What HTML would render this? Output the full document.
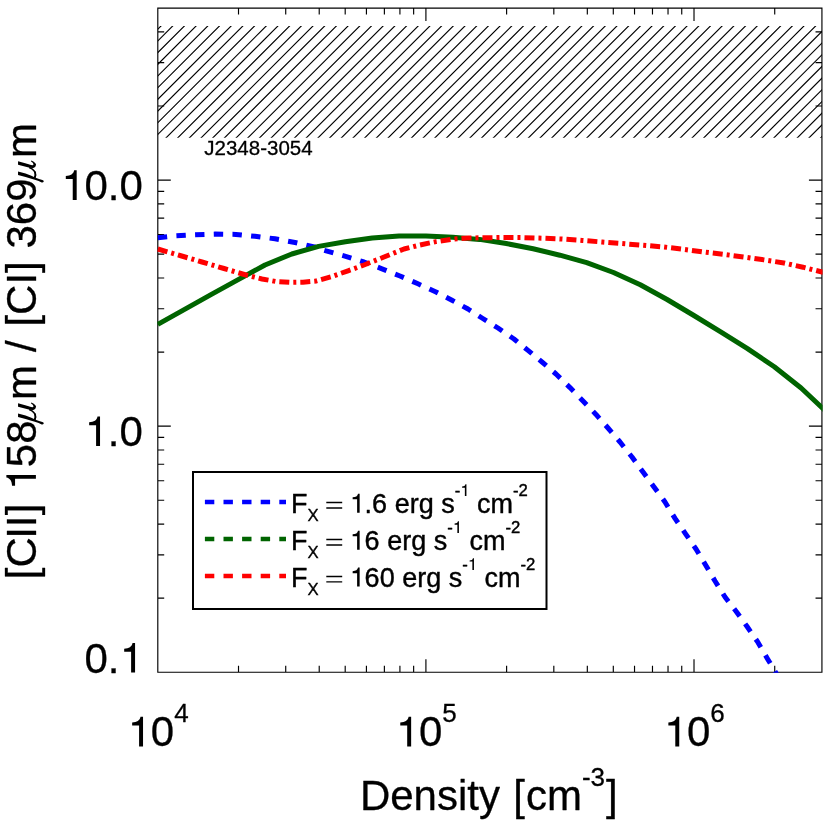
<!DOCTYPE html>
<html><head><meta charset="utf-8"><title>chart</title>
<style>html,body{margin:0;padding:0;background:#fff}svg{display:block}</style>
</head><body>
<svg width="830" height="830" viewBox="0 0 830 830" style="will-change:transform">
<defs><clipPath id="cp"><rect x="157.20" y="7.47" width="665.33" height="665.35"/></clipPath>
<clipPath id="hp"><rect x="157.80" y="25.90" width="664.13" height="111.80"/></clipPath></defs>
<rect x="0" y="0" width="830" height="830" fill="#fff"/>
<path d="M22.92 140.70 L140.72 22.90 M34.61 140.70 L152.41 22.90 M46.30 140.70 L164.10 22.90 M57.99 140.70 L175.79 22.90 M69.68 140.70 L187.48 22.90 M81.37 140.70 L199.17 22.90 M93.06 140.70 L210.86 22.90 M104.75 140.70 L222.55 22.90 M116.44 140.70 L234.24 22.90 M128.13 140.70 L245.93 22.90 M139.82 140.70 L257.62 22.90 M151.51 140.70 L269.31 22.90 M163.20 140.70 L281.00 22.90 M174.89 140.70 L292.69 22.90 M186.58 140.70 L304.38 22.90 M198.27 140.70 L316.07 22.90 M209.96 140.70 L327.76 22.90 M221.65 140.70 L339.45 22.90 M233.34 140.70 L351.14 22.90 M245.03 140.70 L362.83 22.90 M256.72 140.70 L374.52 22.90 M268.41 140.70 L386.21 22.90 M280.10 140.70 L397.90 22.90 M291.79 140.70 L409.59 22.90 M303.48 140.70 L421.28 22.90 M315.17 140.70 L432.97 22.90 M326.86 140.70 L444.66 22.90 M338.55 140.70 L456.35 22.90 M350.24 140.70 L468.04 22.90 M361.93 140.70 L479.73 22.90 M373.62 140.70 L491.42 22.90 M385.31 140.70 L503.11 22.90 M397.00 140.70 L514.80 22.90 M408.69 140.70 L526.49 22.90 M420.38 140.70 L538.18 22.90 M432.07 140.70 L549.87 22.90 M443.76 140.70 L561.56 22.90 M455.45 140.70 L573.25 22.90 M467.14 140.70 L584.94 22.90 M478.83 140.70 L596.63 22.90 M490.52 140.70 L608.32 22.90 M502.21 140.70 L620.01 22.90 M513.90 140.70 L631.70 22.90 M525.59 140.70 L643.39 22.90 M537.28 140.70 L655.08 22.90 M548.97 140.70 L666.77 22.90 M560.66 140.70 L678.46 22.90 M572.35 140.70 L690.15 22.90 M584.04 140.70 L701.84 22.90 M595.73 140.70 L713.53 22.90 M607.42 140.70 L725.22 22.90 M619.11 140.70 L736.91 22.90 M630.80 140.70 L748.60 22.90 M642.49 140.70 L760.29 22.90 M654.18 140.70 L771.98 22.90 M665.87 140.70 L783.67 22.90 M677.56 140.70 L795.36 22.90 M689.25 140.70 L807.05 22.90 M700.94 140.70 L818.74 22.90 M712.63 140.70 L830.43 22.90 M724.32 140.70 L842.12 22.90 M736.01 140.70 L853.81 22.90 M747.70 140.70 L865.50 22.90 M759.39 140.70 L877.19 22.90 M771.08 140.70 L888.88 22.90 M782.77 140.70 L900.57 22.90 M794.46 140.70 L912.26 22.90 M806.15 140.70 L923.95 22.90 M817.84 140.70 L935.64 22.90" clip-path="url(#hp)" stroke="#000" stroke-width="1.15" fill="none"/>
<path d="M157.80 8.07 H821.93 V672.22 H157.80 Z M238.51 672.22 v-6.40 M238.51 8.07 v6.40 M285.72 672.22 v-6.40 M285.72 8.07 v6.40 M319.22 672.22 v-6.40 M319.22 8.07 v6.40 M345.20 672.22 v-6.40 M345.20 8.07 v6.40 M366.43 672.22 v-6.40 M366.43 8.07 v6.40 M384.38 672.22 v-6.40 M384.38 8.07 v6.40 M399.92 672.22 v-6.40 M399.92 8.07 v6.40 M413.64 672.22 v-6.40 M413.64 8.07 v6.40 M425.91 672.22 v-13.00 M425.91 8.07 v13.00 M506.61 672.22 v-6.40 M506.61 8.07 v6.40 M553.82 672.22 v-6.40 M553.82 8.07 v6.40 M587.32 672.22 v-6.40 M587.32 8.07 v6.40 M613.30 672.22 v-6.40 M613.30 8.07 v6.40 M634.53 672.22 v-6.40 M634.53 8.07 v6.40 M652.48 672.22 v-6.40 M652.48 8.07 v6.40 M668.03 672.22 v-6.40 M668.03 8.07 v6.40 M681.74 672.22 v-6.40 M681.74 8.07 v6.40 M694.01 672.22 v-13.00 M694.01 8.07 v13.00 M774.72 672.22 v-6.40 M774.72 8.07 v6.40 M157.80 598.14 h6.40 M821.93 598.14 h-6.40 M157.80 554.81 h6.40 M821.93 554.81 h-6.40 M157.80 524.07 h6.40 M821.93 524.07 h-6.40 M157.80 500.22 h6.40 M821.93 500.22 h-6.40 M157.80 480.74 h6.40 M821.93 480.74 h-6.40 M157.80 464.26 h6.40 M821.93 464.26 h-6.40 M157.80 449.99 h6.40 M821.93 449.99 h-6.40 M157.80 437.40 h6.40 M821.93 437.40 h-6.40 M157.80 426.14 h13.00 M821.93 426.14 h-13.00 M157.80 352.07 h6.40 M821.93 352.07 h-6.40 M157.80 308.74 h6.40 M821.93 308.74 h-6.40 M157.80 277.99 h6.40 M821.93 277.99 h-6.40 M157.80 254.15 h6.40 M821.93 254.15 h-6.40 M157.80 234.66 h6.40 M821.93 234.66 h-6.40 M157.80 218.19 h6.40 M821.93 218.19 h-6.40 M157.80 203.92 h6.40 M821.93 203.92 h-6.40 M157.80 191.33 h6.40 M821.93 191.33 h-6.40 M157.80 180.07 h13.00 M821.93 180.07 h-13.00 M157.80 105.99 h6.40 M821.93 105.99 h-6.40 M157.80 62.66 h6.40 M821.93 62.66 h-6.40 M157.80 31.92 h6.40 M821.93 31.92 h-6.40" stroke="#000" stroke-width="1.15" fill="none"/>
<g clip-path="url(#cp)" fill="none" stroke-width="5" stroke-linejoin="round">
<path d="M157.8 237.7 L175.0 235.9 L195.0 234.8 L215.0 234.1 L236.0 234.4 L255.0 236.3 L275.0 238.8 L295.0 242.5 L316.0 247.3 L324.0 250.2 L344.0 255.8 L364.0 262.0 L382.0 268.8 L400.0 276.0 L418.0 283.8 L436.0 292.0 L452.0 300.3 L468.0 309.0 L482.0 318.0 L498.0 328.0 L514.0 339.0 L528.0 350.4 L542.0 362.0 L556.0 374.0 L570.0 387.6 L583.0 401.0 L596.0 414.4 L608.0 428.0 L620.0 442.0 L632.0 457.0 L643.0 472.0 L654.0 487.0 L665.0 502.0 L675.0 518.4 L685.4 533.6 L696.0 549.0 L705.6 565.0 L715.0 581.0 L725.0 597.0 L736.6 612.0 L747.4 627.0 L758.0 642.4 L767.3 658.4 L775.2 671.7 L782.0 683.0" stroke="#0000ff" stroke-dasharray="9.4 9.3"/>
<path d="M157.8 324.4 L184.6 309.4 L211.4 294.4 L238.2 279.6 L265.0 265.0 L291.8 254.0 L318.6 246.4 L345.4 241.8 L372.2 238.1 L399.0 236.1 L425.9 236.0 L452.7 237.2 L479.5 239.4 L506.3 243.5 L533.1 248.7 L559.9 255.2 L586.7 262.7 L613.5 272.5 L640.3 284.8 L667.1 299.5 L693.9 315.5 L720.7 331.9 L747.5 348.6 L774.3 366.8 L801.1 388.0 L827.9 413.3" stroke="#006400"/>
<path d="M157.8 249.0 L180.0 255.5 L202.0 262.0 L224.0 268.5 L246.0 275.0 L262.0 279.0 L276.0 281.5 L290.0 282.4 L303.0 282.2 L316.0 281.0 L332.0 276.5 L348.0 270.8 L364.0 265.0 L384.0 257.0 L404.0 249.0 L420.0 245.0 L436.0 241.6 L452.0 239.3 L468.0 238.0 L482.0 237.8 L502.0 237.5 L522.0 237.6 L542.0 238.2 L562.0 239.0 L582.0 240.4 L602.0 242.0 L625.0 243.8 L648.0 245.6 L664.0 247.0 L684.0 249.4 L704.0 252.0 L724.0 254.4 L744.0 257.0 L764.0 259.9 L784.0 263.0 L803.0 267.2 L822.0 272.0 L830.0 274.0" stroke="#ff0000" stroke-dasharray="10 4 3 4"/>
</g>
<g font-family='"Liberation Sans", sans-serif' fill="#000" stroke="#000" stroke-width="0.30" stroke-linejoin="round">
<path transform="translate(61.06 199.90) scale(0.04200 -0.04200)" d="M372 0L278 0L278 496L113 496L113 568C228 572 296 615 312 703L372 703Z" stroke-width="0.0"/>
<text x="84.41" y="199.90" font-size="42" xml:space="preserve">0.0</text>
<path transform="translate(84.41 446.10) scale(0.04200 -0.04200)" d="M372 0L278 0L278 496L113 496L113 568C228 572 296 615 312 703L372 703Z" stroke-width="0.0"/>
<text x="107.77" y="446.10" font-size="42" xml:space="preserve">.0</text>
<text x="84.41" y="672.50" font-size="42">0.</text>
<path transform="translate(119.44 672.50) scale(0.04200 -0.04200)" d="M372 0L278 0L278 496L113 496L113 568C228 572 296 615 312 703L372 703Z" stroke-width="0.0"/>
<path transform="translate(127.41 746.40) scale(0.04200 -0.04200)" d="M372 0L278 0L278 496L113 496L113 568C228 572 296 615 312 703L372 703Z" stroke-width="0.0"/>
<text x="150.77" y="746.40" font-size="42" xml:space="preserve">0</text>
<text x="174.13" y="721.60" font-size="26" xml:space="preserve">4</text>
<path transform="translate(395.52 746.40) scale(0.04200 -0.04200)" d="M372 0L278 0L278 496L113 496L113 568C228 572 296 615 312 703L372 703Z" stroke-width="0.0"/>
<text x="418.88" y="746.40" font-size="42" xml:space="preserve">0</text>
<text x="442.23" y="721.60" font-size="26" xml:space="preserve">5</text>
<path transform="translate(663.62 746.40) scale(0.04200 -0.04200)" d="M372 0L278 0L278 496L113 496L113 568C228 572 296 615 312 703L372 703Z" stroke-width="0.0"/>
<text x="686.98" y="746.40" font-size="42" xml:space="preserve">0</text>
<text x="710.34" y="721.60" font-size="26" xml:space="preserve">6</text>
<text x="359.90" y="810.30" font-size="42" xml:space="preserve">Density</text>
<text x="513.20" y="810.30" font-size="42" xml:space="preserve">[</text>
<text x="525.97" y="810.30" font-size="42" xml:space="preserve">cm</text>
<text x="581.96" y="785.80" font-size="26" xml:space="preserve">-3</text>
<text x="606.07" y="810.30" font-size="42" xml:space="preserve">]</text>
<text x="204.30" y="155.40" font-size="20.5" xml:space="preserve">J2348-3054</text>
<g transform="translate(35.90 579.20) rotate(-90)">
<text x="0.00" y="0.00" font-size="42" xml:space="preserve">[C</text>
</g>
<g transform="translate(35.90 538.80) rotate(-90)">
<text x="0.00" y="0.00" font-size="42" xml:space="preserve">II</text>
</g>
<g transform="translate(35.90 515.26) rotate(-90)">
<text x="0.00" y="0.00" font-size="42" xml:space="preserve">]</text>
</g>
<g transform="translate(35.90 490.52) rotate(-90)">
<path transform="translate(0.00 0.00) scale(0.04200 -0.04200)" d="M372 0L278 0L278 496L113 496L113 568C228 572 296 615 312 703L372 703Z" stroke-width="0.0"/>
<text x="23.36" y="0.00" font-size="42" xml:space="preserve">58</text>
</g>
<g transform="translate(35.90 400.10) rotate(-90)">
<text x="0.00" y="0.00" font-size="42" xml:space="preserve">m</text>
</g>
<g transform="translate(35.90 352.10) rotate(-90)">
<text x="0.00" y="0.00" font-size="42" xml:space="preserve">/</text>
</g>
<g transform="translate(35.90 326.60) rotate(-90)">
<text x="0.00" y="0.00" font-size="42" xml:space="preserve">[CI]</text>
</g>
<g transform="translate(35.90 248.59) rotate(-90)">
<text x="0.00" y="0.00" font-size="42" xml:space="preserve">369</text>
</g>
<g transform="translate(35.90 158.00) rotate(-90)">
<text x="0.00" y="0.00" font-size="42" xml:space="preserve">m</text>
</g>
</g>
<g transform="translate(14 156) scale(0.03855)"><path d="M105 135L105 225L330 285Q420 318 500 314Q566 296 573 230Q570 168 450 115L438 134Q512 186 506 222Q498 242 470 238Q420 228 360 205Z"/><path d="M105 400L105 490L300 545L450 590L540 614L640 650L705 680Q750 696 773 662Q772 632 735 624L650 598L560 562L450 510L300 455Z"/><path d="M395 298C480 330 560 410 560 500C560 540 545 565 525 588" fill="none" stroke="#000" stroke-width="36"/><path d="M545 405C560 450 557 520 532 572" fill="none" stroke="#000" stroke-width="46"/></g>
<g transform="translate(14 398) scale(0.03855)"><path d="M105 135L105 225L330 285Q420 318 500 314Q566 296 573 230Q570 168 450 115L438 134Q512 186 506 222Q498 242 470 238Q420 228 360 205Z"/><path d="M105 400L105 490L300 545L450 590L540 614L640 650L705 680Q750 696 773 662Q772 632 735 624L650 598L560 562L450 510L300 455Z"/><path d="M395 298C480 330 560 410 560 500C560 540 545 565 525 588" fill="none" stroke="#000" stroke-width="36"/><path d="M545 405C560 450 557 520 532 572" fill="none" stroke="#000" stroke-width="46"/></g>
<rect x="193" y="472" width="353.5" height="137" fill="#fff" stroke="#000" stroke-width="2"/>
<path d="M204.9 502.00 H286" stroke="#0000ff" stroke-width="4.5" stroke-dasharray="9.4 9.2" fill="none"/>
<path d="M326.3 502.55 h15.9 M326.3 507.95 h15.9" stroke="#000" stroke-width="1.45" fill="none"/>
<path d="M204.9 538.95 H286" stroke="#006400" stroke-width="4.5" stroke-dasharray="9.4 9.2" fill="none"/>
<path d="M326.3 539.50 h15.9 M326.3 544.90 h15.9" stroke="#000" stroke-width="1.45" fill="none"/>
<path d="M204.9 575.90 H286" stroke="#ff0000" stroke-width="4.5" stroke-dasharray="9.4 9.2" fill="none"/>
<path d="M326.3 576.45 h15.9 M326.3 581.85 h15.9" stroke="#000" stroke-width="1.45" fill="none"/>
<g font-family='"Liberation Sans", sans-serif' fill="#000" stroke="#000" stroke-width="0.40" stroke-linejoin="round">
<text x="291.00" y="512.70" font-size="27" xml:space="preserve">F</text>
<text x="307.49" y="521.30" font-size="16.7" xml:space="preserve">X</text>
<path transform="translate(349.60 512.70) scale(0.02700 -0.02700)" d="M372 0L278 0L278 496L113 496L113 568C228 572 296 615 312 703L372 703Z" stroke-width="0.0"/>
<text x="364.62" y="512.70" font-size="27" xml:space="preserve">.6 erg s</text>
<text x="454.66" y="496.00" font-size="16.7">-</text>
<path transform="translate(460.22 496.00) scale(0.01670 -0.01670)" d="M372 0L278 0L278 496L113 496L113 568C228 572 296 615 312 703L372 703Z" stroke-width="0.0"/>
<text x="469.51" y="512.70" font-size="27" xml:space="preserve"> cm</text>
<text x="513.00" y="496.00" font-size="16.7" xml:space="preserve">-2</text>
<text x="291.00" y="549.65" font-size="27" xml:space="preserve">F</text>
<text x="307.49" y="558.25" font-size="16.7" xml:space="preserve">X</text>
<path transform="translate(349.60 549.65) scale(0.02700 -0.02700)" d="M372 0L278 0L278 496L113 496L113 568C228 572 296 615 312 703L372 703Z" stroke-width="0.0"/>
<text x="364.62" y="549.65" font-size="27" xml:space="preserve">6 erg s</text>
<text x="447.16" y="532.95" font-size="16.7">-</text>
<path transform="translate(452.72 532.95) scale(0.01670 -0.01670)" d="M372 0L278 0L278 496L113 496L113 568C228 572 296 615 312 703L372 703Z" stroke-width="0.0"/>
<text x="462.01" y="549.65" font-size="27" xml:space="preserve"> cm</text>
<text x="505.50" y="532.95" font-size="16.7" xml:space="preserve">-2</text>
<text x="291.00" y="586.60" font-size="27" xml:space="preserve">F</text>
<text x="307.49" y="595.20" font-size="16.7" xml:space="preserve">X</text>
<path transform="translate(349.60 586.60) scale(0.02700 -0.02700)" d="M372 0L278 0L278 496L113 496L113 568C228 572 296 615 312 703L372 703Z" stroke-width="0.0"/>
<text x="364.62" y="586.60" font-size="27" xml:space="preserve">60 erg s</text>
<text x="462.17" y="569.90" font-size="16.7">-</text>
<path transform="translate(467.74 569.90) scale(0.01670 -0.01670)" d="M372 0L278 0L278 496L113 496L113 568C228 572 296 615 312 703L372 703Z" stroke-width="0.0"/>
<text x="477.02" y="586.60" font-size="27" xml:space="preserve"> cm</text>
<text x="520.52" y="569.90" font-size="16.7" xml:space="preserve">-2</text>
</g>
</svg>
</body></html>
